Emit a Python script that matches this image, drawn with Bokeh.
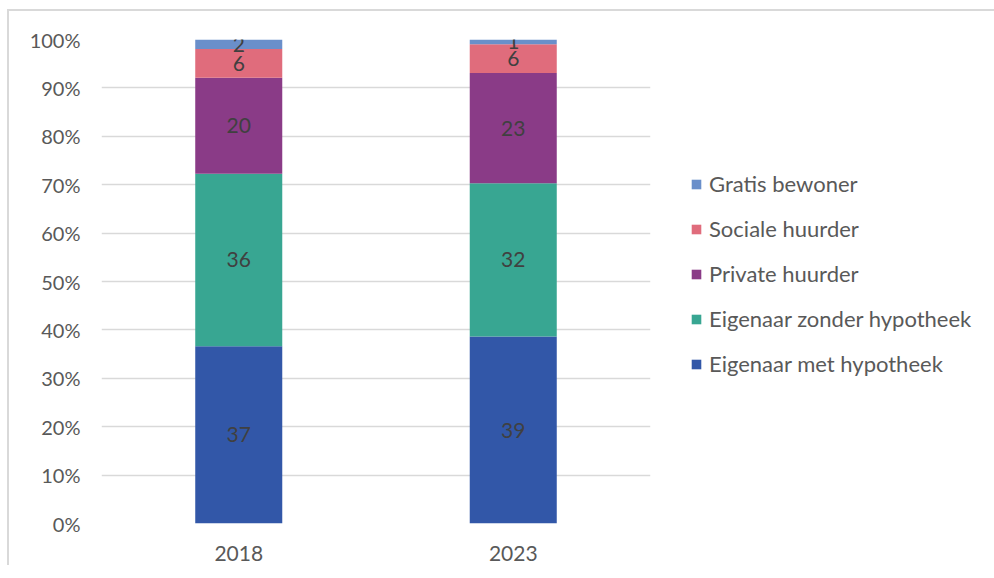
from bokeh.plotting import figure
from bokeh.models import Legend, LegendItem, ColumnDataSource, NumeralTickFormatter, FixedTicker
from bokeh.embed import file_html
from bokeh.resources import INLINE
from bokeh.core.properties import value

years = ["2018", "2023"]
series = ["Eigenaar met hypotheek", "Eigenaar zonder hypotheek", "Private huurder", "Sociale huurder", "Gratis bewoner"]
met_hypotheek = [37, 39]
zonder_hypotheek = [36, 32]
private_huurder = [20, 23]
sociale_huurder = [6, 6]
gratis_bewoner = [2, 1]
colors = ["#3257a8", "#38a692", "#8a3b87", "#e06c7c", "#6a8fca"]
y_ticks = [0, 0.1, 0.2, 0.3, 0.4, 0.5, 0.6, 0.7, 0.8, 0.9, 1.0]

raw = [met_hypotheek, zonder_hypotheek, private_huurder, sociale_huurder, gratis_bewoner]
totals = [sum(r[i] for r in raw) for i in range(len(years))]
keys = ["s%d" % k for k in range(len(series))]
data = {"year": years}
for k, r in zip(keys, raw):
    data[k] = [v / t for v, t in zip(r, totals)]
src = ColumnDataSource(data)

FONT = "Lato"
p = figure(x_range=years, y_range=(0, 1), output_backend="svg", toolbar_location=None,
           frame_width=549, frame_height=484, min_border_left=92, min_border_top=28,
           min_border_bottom=42, min_border_right=10)
p.styles = {"border-left": "2px solid #d9d9d9", "border-top": "2px solid #d9d9d9",
            "margin-left": "7px", "margin-top": "9px"}

rends = p.vbar_stack(keys, x="year", width=0.317, color=colors, source=src, line_color=None)

# data labels
lx, ly, lt = [], [], []
for i, y in enumerate(years):
    base = 0.0
    for k, r in zip(keys, raw):
        h = data[k][i]
        lx.append(y)
        ly.append(base + h / 2)
        lt.append(str(r[i]))
        base += h
p.text(x=lx, y=ly, text=lt, text_align="center", text_baseline="middle",
       text_font=value(FONT), text_font_size="21px", text_color="#404040")

p.outline_line_color = None
p.xgrid.grid_line_color = None
p.ygrid.grid_line_color = "#d9d9d9"
p.ygrid.grid_line_width = 1.5
p.yaxis.ticker = FixedTicker(ticks=y_ticks)
p.yaxis.formatter = NumeralTickFormatter(format="0%")
for ax in (p.xaxis, p.yaxis):
    ax.axis_line_color = None
    ax.major_tick_line_color = None
    ax.minor_tick_line_color = None
    ax.major_label_text_font = FONT
    ax.major_label_text_color = "#595959"
p.yaxis.major_label_text_font_size = "20px"
p.xaxis.major_label_text_font_size = "21px"
p.yaxis.major_label_standoff = 15
p.xaxis.major_label_standoff = 16

items = [LegendItem(label=s, renderers=[r]) for s, r in zip(series, rends)][::-1]
legend = Legend(items=items, location=(40, 146), orientation="vertical")
legend.border_line_color = None
legend.background_fill_alpha = 0
legend.padding = 0
legend.margin = 0
legend.glyph_width = 12
legend.glyph_height = 12
legend.label_standoff = 7
legend.label_height = 22
legend.spacing = 18
legend.label_text_font = FONT
legend.label_text_font_size = "22px"
legend.label_text_color = "#595959"
p.add_layout(legend, "right")

open("out.html", "w").write(file_html(p, INLINE))
